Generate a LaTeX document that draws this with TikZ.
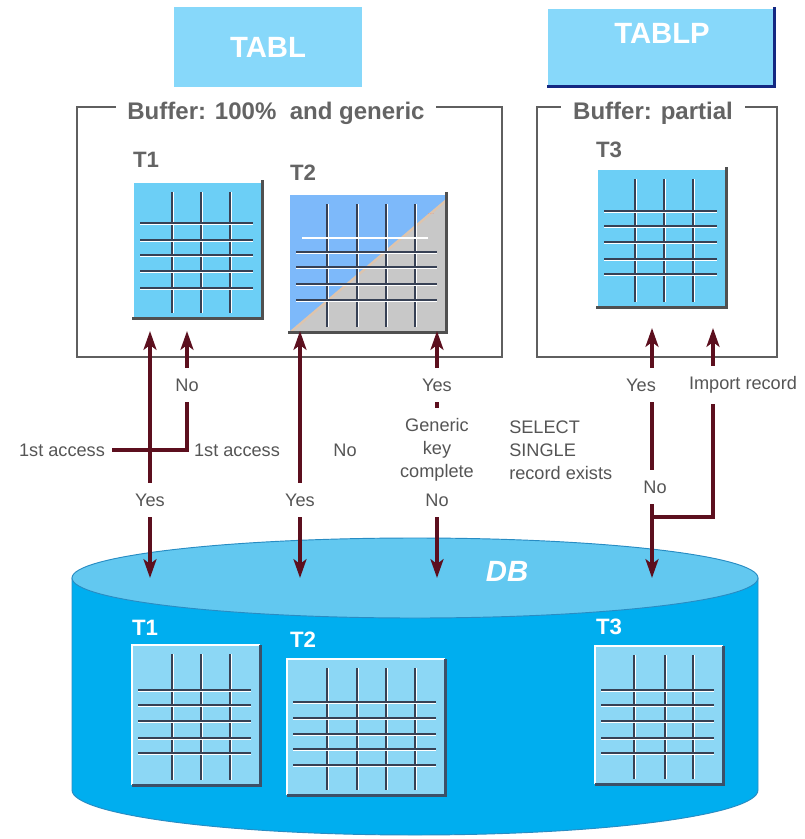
\documentclass[tikz,border=0pt]{standalone}
\usepackage{fontspec}
\setmainfont{Liberation Sans}
\usetikzlibrary{arrows.meta}
\usetikzlibrary{calc}
\definecolor{boxblue}{RGB}{135,216,250}
\definecolor{navyline}{RGB}{20,40,130}
\definecolor{framegray}{RGB}{95,95,95}
\definecolor{hdgray}{RGB}{100,100,100}
\definecolor{labgray}{RGB}{85,85,85}
\definecolor{tabcyan}{RGB}{108,207,246}
\definecolor{tabperi}{RGB}{125,185,250}
\definecolor{tabgray}{RGB}{200,200,200}
\definecolor{peach}{RGB}{222,196,172}
\definecolor{gridd}{RGB}{55,65,85}
\definecolor{shadgray}{RGB}{80,80,80}
\definecolor{dbside}{RGB}{0,174,239}
\definecolor{dbtop}{RGB}{98,200,240}
\definecolor{dbedge}{RGB}{40,140,195}
\definecolor{dbtab}{RGB}{140,215,245}
\definecolor{dbshad}{RGB}{60,80,104}
\definecolor{arrred}{RGB}{92,15,30}
\tikzset{lab/.style={font=\fontsize{15.5}{18}\selectfont, text=labgray, inner xsep=6pt, inner ysep=9pt}}
\tikzset{hd/.style={font=\fontsize{20.5}{22}\selectfont\bfseries, text=hdgray, fill=white, inner xsep=10pt, inner ysep=1pt}}
\tikzset{tl/.style={font=\fontsize{19}{20}\selectfont\bfseries, text=hdgray}}
\tikzset{tlw/.style={font=\fontsize{19}{20}\selectfont\bfseries, text=white}}
\tikzset{topbox/.style={fill=boxblue, font=\fontsize{25}{25}\selectfont\bfseries, text=white}}
\tikzset{frame/.style={draw=framegray, line width=1.2pt}}
\tikzset{arr/.style={draw=arrred, line width=3.2pt, -{Stealth[length=16pt,width=11pt,inset=4pt]}}}
\tikzset{flow/.style={draw=arrred, line width=3.2pt}}
\tikzset{gridd/.style={draw=gridd, line width=1.5pt}}
\tikzset{gridw/.style={draw=white, line width=1.1pt}}
% grid of a table: node, x offsets, y offsets, width, height
\newcommand{\tabgrid}[5]{%
  \foreach \gx in {#2} {
    \draw[gridw] ($(#1.north west)+(\gx+1.6,9)$) -- ++(0,#5-14);
    \draw[gridd] ($(#1.north west)+(\gx,9)$) -- ++(0,#5-14);
  }
  \foreach \gy in {#3} {
    \draw[gridw] ($(#1.north west)+(6,\gy+1.6)$) -- ++(#4-15,0);
    \draw[gridd] ($(#1.north west)+(6,\gy)$) -- ++(#4-15,0);
  }
}

\begin{document}
\begin{tikzpicture}[x=0.03cm, y=-0.03cm]
  \useasboundingbox (0,0) rectangle (804,839);

  % table types
  \node (tabl) [topbox, minimum width=5.61cm, minimum height=2.37cm] at (268,47) {TABL};
  \node (tablp) [fill=boxblue, minimum width=6.81cm, minimum height=2.31cm] at (661,48) {};
  \draw[navyline, line width=2.4pt] ($(tablp.north east)+(0,-2)$) -- (tablp.south east) -- (tablp.south west);
  \node (tablptxt) [topbox, fill=none] at (662,33) {TABLP};

  % buffers
  \draw[frame] (77,107) rectangle (502,357);
  \node (hb1) [hd] at (276,113) {Buffer: 100\%~ and generic};
  \draw[frame] (537,107) rectangle (777,357);
  \node (hb2) [hd] at (653,113) {Buffer: partial};

  \node (t1bl) [tl] at (146,160) {T1};
  \node (t1buf) [fill=tabcyan, minimum width=3.84cm, minimum height=4.05cm, anchor=north west] at (134,183) {};
  \tabgrid{t1buf}{38,67,96}{40,57,72,88,105}{128}{135}

  \node (t2bl) [tl] at (303,173) {T2};
  \node (t2buf) [fill=tabgray, minimum width=4.68cm, minimum height=4.11cm, anchor=north west] at (290,195) {};
  \fill[tabperi] (t2buf.north west) -- (t2buf.north east) -- ($(t2buf.north east)+(0,5)$) -- (t2buf.south west) -- cycle;
  \draw[peach, line width=2pt] ($(t2buf.north east)+(0,5)$) -- (t2buf.south west);
  \tabgrid{t2buf}{37,67,96,125}{57,72,89,105}{156}{137}
  \draw[gridw] ($(t2buf.north west)+(12,43)$) -- ++(126,0);
  \node (dots) [font=\fontsize{7}{7}\selectfont, text=peach!80!red] at (431,214) {...};

  \node (t3bl) [tl] at (609,150) {T3};
  \node (t3buf) [fill=tabcyan, minimum width=3.84cm, minimum height=4.11cm, anchor=north west] at (598,170) {};
  \tabgrid{t3buf}{37,66,95}{41,56,72,89,104}{128}{137}

  \foreach \t in {t1buf,t2buf,t3buf}
    \draw[shadgray, line width=2.4pt] ($(\t.north east)+(0,-3)$) -- (\t.south east) -- ($(\t.south west)+(-2,0)$);

  % database
  \filldraw[fill=dbside, draw=dbedge, line width=0.8pt] (72,578) -- (72,790) arc[start angle=180, end angle=0, x radius=343, y radius=45] -- (758,578) -- cycle;
  \filldraw[fill=dbtop, draw=dbedge, line width=0.8pt] (415,578) ellipse [x radius=343, y radius=40];
  \node (dbtxt) [font=\fontsize{25}{25}\selectfont\bfseries\itshape, text=white] at (507,571) {DB};

  \node (t1dl) [tlw] at (145,628) {T1};
  \node (t1db) [fill=dbtab, minimum width=3.84cm, minimum height=4.2cm, anchor=north west] at (132,645) {};
  \tabgrid{t1db}{40,69,98}{45,60,76,93,108}{128}{140}
  \node (t2dl) [tlw] at (303,640) {T2};
  \node (t2db) [fill=dbtab, minimum width=4.74cm, minimum height=4.08cm, anchor=north west] at (287,659) {};
  \tabgrid{t2db}{40,70,99,128}{43,59,75,90,106}{158}{136}
  \node (t3dl) [tlw] at (609,627) {T3};
  \node (t3db) [fill=dbtab, minimum width=3.84cm, minimum height=4.14cm, anchor=north west] at (595,646) {};
  \tabgrid{t3db}{39,70,98}{44,59,75,92,107}{128}{138}

  \foreach \t in {t1db,t2db,t3db} {
    \draw[white, line width=1.8pt] (\t.south west) -- (\t.north west) -- (\t.north east);
    \draw[dbshad, line width=2.2pt] (\t.north east) -- (\t.south east) -- (\t.south west);
  }

  % labels
  \node (acc1) [lab] at (62,450) {1st access};
  \node (acc2) [lab] at (237,450) {1st access};
  \node (no1) [lab] at (187,385) {No};
  \node (yes1) [lab] at (150,500) {Yes};
  \node (yes2) [lab] at (300,500) {Yes};
  \node (no2) [lab] at (345,450) {No};
  \node (yes3) [lab] at (437,385) {Yes};
  \node (gen) [lab, align=center, font=\fontsize{15.5}{19.5}\selectfont] at (437,450) {Generic\\key\\complete};
  \node (no3) [lab] at (437,500) {No};
  \node (sel) [lab, align=left, anchor=west, font=\fontsize{15.5}{19.5}\selectfont] at (502,450) {SELECT\\SINGLE\\record exists};
  \node (yes4) [lab] at (641,385) {Yes};
  \node (imp) [lab] at (743,385) {Import record};
  \node (no4) [lab] at (655,487) {No};

  \coordinate (in1) at (150,331);
  \coordinate (in2) at (187,331);
  \coordinate (in3) at (300,331);
  \coordinate (in4) at (437,331);
  \coordinate (in5) at (652,328);
  \coordinate (in6) at (713,328);
  \coordinate (db1) at (150,578);
  \coordinate (db2) at (300,578);
  \coordinate (db3) at (437,578);
  \coordinate (db4) at (652,578);
  \coordinate (fork) at (652,517);

  % accesses
  \draw[arr] (yes1.north) -- (in1);
  \draw[arr] (yes1.south) -- (db1);
  \draw[flow] (acc1.east) -- (acc1.east -| no1) -- (no1.south);
  \draw[arr] (no1.north) -- (in2);
  \draw[arr] (yes2.north) -- (in3);
  \draw[arr] (yes2.south) -- (db2);
  \draw[arr] (yes3.north) -- (in4);
  \draw[flow] (yes3.south) -- (gen.north);
  \draw[arr] (no3.south) -- (db3);
  \draw[arr] (in5 |- yes4.north) -- (in5);
  \draw[flow] (in5 |- yes4.south) -- (in5 |- no4.north);
  \draw[arr] (in5 |- no4.south) -- (db4);
  \draw[flow] (fork) -| (in6 |- imp.south);
  \draw[arr] (in6 |- imp.north) -- (in6);
\end{tikzpicture}
\end{document}
